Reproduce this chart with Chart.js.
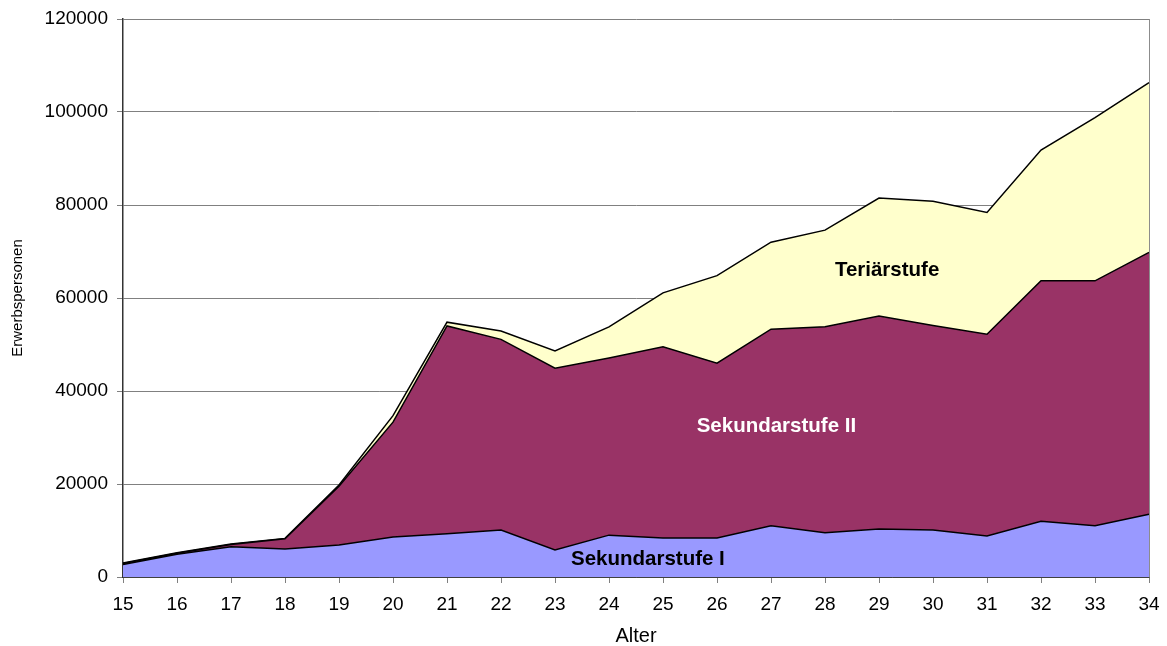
<!DOCTYPE html>
<html>
<head>
<meta charset="utf-8">
<script src="https://cdn.jsdelivr.net/npm/chart.js@4.4.1/dist/chart.umd.min.js"></script>
<style>
  html, body { margin: 0; padding: 0; background: #ffffff; }
  #wrap { width: 1167px; height: 646px; position: relative; }
</style>
</head>
<body>
<div id="wrap"><canvas id="c" width="1167" height="646"></canvas></div>
<script>
// ---- data ----
const ages = ['15','16','17','18','19','20','21','22','23','24','25','26','27','28','29','30','31','32','33','34'];
const sekundarstufeI  = [2700, 4900, 6500, 6000, 6900, 8600, 9300, 10100, 5800, 9000, 8400, 8400, 11000, 9500, 10300, 10100, 8800, 12000, 11000, 13500];
const sekundarstufeII = [200, 200, 500, 2200, 12600, 24700, 44700, 41000, 39100, 38100, 41100, 37600, 42300, 44300, 45800, 44000, 43400, 51700, 52700, 56300];
const tertiaerstufe   = [100, 100, 100, 100, 300, 1400, 800, 1800, 3700, 6700, 11600, 18800, 18700, 20800, 25400, 26700, 26200, 28100, 35100, 36500];
const yTicks = [0, 20000, 40000, 60000, 80000, 100000, 120000];
const seriesNames = ['Sekundarstufe I', 'Sekundarstufe II', 'Teriärstufe'];
// in-chart labels (category index, value, colour)
const areaLabels = [
  { text: 'Sekundarstufe I',  xIndex: 9.72,  y: 3900,  color: '#000000' },
  { text: 'Sekundarstufe II', xIndex: 12.1,  y: 32300, color: '#ffffff' },
  { text: 'Teriärstufe',      xIndex: 14.15, y: 66000, color: '#000000' }
];

const FONT = '"Liberation Sans", Arial, Helvetica, sans-serif';

const frameAndLabels = {
  id: 'frameAndLabels',
  afterDatasetsDraw(chart) {
    const ctx = chart.ctx;
    const a = chart.chartArea;
    const xs = chart.scales.x, ys = chart.scales.y;
    ctx.save();
    // right border
    ctx.strokeStyle = '#8c8c8c';
    ctx.lineWidth = 1;
    ctx.beginPath();
    ctx.moveTo(Math.round(a.right) + 0.5, a.top);
    ctx.lineTo(Math.round(a.right) + 0.5, a.bottom);
    ctx.stroke();
    // area labels
    ctx.font = 'bold 20.5px ' + FONT;
    ctx.textAlign = 'center';
    ctx.textBaseline = 'middle';
    areaLabels.forEach(l => {
      ctx.fillStyle = l.color;
      ctx.fillText(l.text, xs.getPixelForValue(l.xIndex), ys.getPixelForValue(l.y));
    });
    ctx.restore();
  }
};

new Chart(document.getElementById('c'), {
  type: 'line',
  data: {
    labels: ages,
    datasets: [
      { label: seriesNames[0], data: sekundarstufeI,  backgroundColor: '#9999ff', borderColor: '#000000', borderWidth: 1.5, fill: 'origin', pointRadius: 0, tension: 0 },
      { label: seriesNames[1], data: sekundarstufeII, backgroundColor: '#993366', borderColor: '#000000', borderWidth: 1.5, fill: '-1', pointRadius: 0, tension: 0 },
      { label: seriesNames[2], data: tertiaerstufe,   backgroundColor: '#ffffcc', borderColor: '#000000', borderWidth: 1.5, fill: '-1', pointRadius: 0, tension: 0 }
    ]
  },
  options: {
    responsive: false,
    animation: false,
    devicePixelRatio: 1,
    layout: { padding: { top: 19, right: 18, left: 0, bottom: 0 } },
    plugins: {
      legend: { display: false },
      tooltip: { enabled: false },
      filler: { drawTime: 'beforeDatasetDraw' }
    },
    elements: { line: { borderJoinStyle: 'miter' } },
    scales: {
      x: {
        type: 'category',
        offset: false,
        grid: { display: true, drawOnChartArea: false, drawTicks: true, tickLength: 6, color: '#808080' },
        border: { display: true, color: '#000000', width: 1.5 },
        ticks: { color: '#000000', font: { family: FONT, size: 19 }, padding: 10, maxRotation: 0, autoSkip: false },
        title: { display: true, text: 'Alter', color: '#000000', font: { family: FONT, size: 20, lineHeight: 1 }, padding: { top: 0, bottom: 0 } },
        afterFit(scale) { scale.height = 69; scale.paddingLeft = 0; scale.paddingRight = 0; }
      },
      y: {
        stacked: true,
        min: 0,
        max: 120000,
        afterBuildTicks(scale) { scale.ticks = yTicks.map(v => ({ value: v })); },
        grid: { color: '#808080', lineWidth: 1, drawTicks: true, tickLength: 6 },
        border: { display: true, color: '#333333', width: 1.5 },
        ticks: { color: '#000000', font: { family: FONT, size: 19 }, padding: 9, callback: v => String(v) },
        title: { display: true, text: 'Erwerbspersonen', color: '#000000', font: { family: FONT, size: 15 }, padding: { top: 9, bottom: 0 } },
        afterFit(scale) { scale.width = 123; scale.paddingTop = 0; scale.paddingBottom = 0; }
      }
    }
  },
  plugins: [frameAndLabels]
});
</script>
</body>
</html>
